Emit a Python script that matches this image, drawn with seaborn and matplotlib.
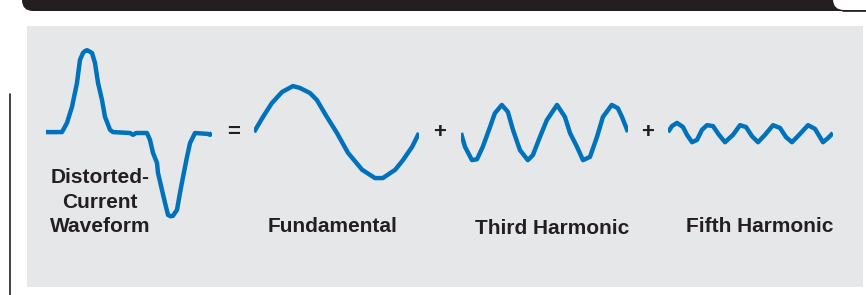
import numpy as np
import pandas as pd
import matplotlib
matplotlib.use("Agg")
import matplotlib.pyplot as plt
from matplotlib.patches import FancyBboxPatch, Rectangle
import seaborn as sns

# ---- data (phase in degrees over one fundamental cycle, amplitude relative to fundamental) ----
distorted_deg = [0, 34.7, 45.5, 56.4, 67.2, 73.7, 80.2, 84.5, 88.9, 93.0, 99.8, 106.3, 112.8,
                 121.4, 128.0, 138.8, 145.3, 182.2, 188.7, 195.2, 219.0, 225.5, 232.0, 240.7,
                 242.9, 251.6, 258.1, 264.6, 270.0, 275.4, 284.1, 290.6, 297.1, 305.8, 312.3,
                 323.1, 351.3, 355.7, 360]
distorted_val = [0.02, 0.02, 0.22, 0.57, 1.09, 1.59, 1.74, 1.78, 1.80, 1.78, 1.74, 1.52, 1.09,
                 0.72, 0.35, 0.07, 0.02, 0.0, -0.04, 0.0, 0.0, -0.15, -0.43, -0.65,
                 -0.87, -1.24, -1.52, -1.78, -1.81, -1.80, -1.67, -1.30, -0.96, -0.52, -0.22,
                 0.0, -0.02, -0.04, 0.0]

fund_deg = [0, 19.6, 39, 61, 85, 100, 122, 137, 159, 181, 205, 236, 264, 281, 308, 325, 345, 360]
fund_val = [0.02, 0.35, 0.65, 0.89, 1.02, 0.98, 0.87, 0.72, 0.35, 0.0, -0.43, -0.80, -0.98,
            -0.98, -0.80, -0.59, -0.30, 0.0]

third_deg = [0, 8.6, 23.7, 34.5, 47, 62.5, 73, 88, 101, 112, 127, 144, 155, 170, 185, 207,
             224, 235, 250, 263, 278, 293, 306, 325, 338, 347, 360]
third_val = [0.0, -0.30, -0.59, -0.57, -0.30, 0.13, 0.43, 0.61, 0.46, 0.07, -0.37, -0.59,
             -0.48, -0.09, 0.28, 0.61, 0.35, 0.0, -0.30, -0.59, -0.52, -0.09, 0.35, 0.61,
             0.54, 0.35, 0.02]

fifth_deg = [0, 8.7, 19.6, 32.7, 41.5, 52.4, 63.3, 74.2, 85.1, 98.2, 111.3, 124.4, 141.8,
             157.1, 170.2, 183.3, 196.4, 211.6, 229.1, 244.4, 257.5, 270.5, 288, 305.5,
             320.7, 338.2, 349.1, 360]
fifth_val = [0.02, 0.15, 0.22, 0.13, -0.04, -0.20, -0.15, 0.07, 0.17, 0.15, -0.04, -0.20,
             -0.04, 0.17, 0.13, -0.07, -0.20, -0.04, 0.17, 0.11, -0.09, -0.20, -0.02, 0.17,
             0.09, -0.20, -0.11, 0.0]

labels = ["Distorted-\nCurrent\nWaveform", "Fundamental", "Third Harmonic", "Fifth Harmonic"]
operators = ["=", "+", "+"]

# ---- styling ----
sns.set_style("white")
plt.rcParams["font.family"] = ["Liberation Sans", "DejaVu Sans"]

W, H = 866, 295
fig = plt.figure(figsize=(W / 100, H / 100), dpi=100)
fig.patch.set_facecolor("white")

TXT = "#231f20"
BLUE = "#0072bc"
GRAY = "#e6e7e8"

# background axes in pixel units
bg = fig.add_axes([0, 0, 1, 1])
bg.set_xlim(0, W)
bg.set_ylim(H, 0)
bg.axis("off")

# top black bar with rounded left corner
bg.add_patch(FancyBboxPatch((22, -30), 900, 41, boxstyle="round,pad=0,rounding_size=11",
                            facecolor=TXT, edgecolor="none", zorder=1))
# white tab at the right
bg.add_patch(FancyBboxPatch((833, -30), 80, 40, boxstyle="round,pad=0,rounding_size=11",
                            facecolor="white", edgecolor="none", zorder=2))
bg.plot([843, 866], [11, 11], color=TXT, lw=1.2, zorder=3)

# gray panel
bg.add_patch(Rectangle((27, 26), 836, 261, facecolor=GRAY, edgecolor="none", zorder=1))
# thin vertical rule on the left
bg.plot([10, 10], [94, 295], color=TXT, lw=1.2, zorder=3)

# waveform axes placement (pixel extents)
spans = [(46, 212), (254, 419), (461, 628), (668, 833)]
ytop, ybot = 41, 225
series = [(distorted_deg, distorted_val), (fund_deg, fund_val),
          (third_deg, third_val), (fifth_deg, fifth_val)]

for (x0, x1), (d, v) in zip(spans, series):
    ax = fig.add_axes([x0 / W, 1 - ybot / H, (x1 - x0) / W, (ybot - ytop) / H])
    ax.patch.set_alpha(0)
    df = pd.DataFrame({"deg": d, "val": v})
    sns.lineplot(data=df, x="deg", y="val", ax=ax, sort=False, estimator=None,
                 color=BLUE, lw=3.2, solid_joinstyle="round", solid_capstyle="butt")
    ax.set_xlim(0, 360)
    ax.set_ylim(-2, 2)
    ax.axis("off")

# operators
for x, op in zip([234, 440, 648], operators):
    bg.text(x, 133, op, ha="center", va="center", fontsize=16, fontweight="bold",
            color=TXT, zorder=5)

# labels
bg.text(100, 202, labels[0], ha="center", va="center", fontsize=15, fontweight="bold",
        color=TXT, linespacing=1.35, zorder=5)
for x, y, lab in zip([333, 552, 760], [226, 228, 226], labels[1:]):
    bg.text(x, y, lab, ha="center", va="center", fontsize=15, fontweight="bold",
            color=TXT, zorder=5)

fig.savefig("out.png", dpi=100)
